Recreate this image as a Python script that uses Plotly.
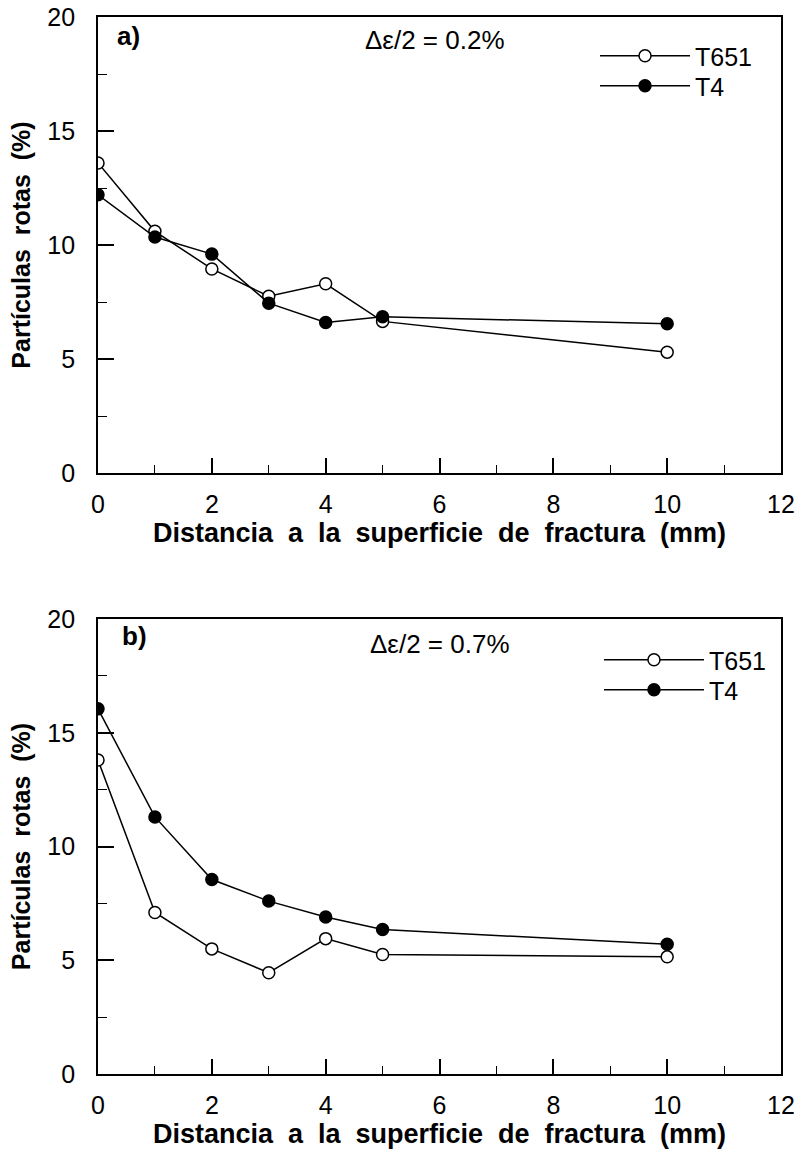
import plotly.graph_objects as go

distance = [0, 1, 2, 3, 4, 5, 10]
a_t651 = [13.6, 10.6, 8.95, 7.75, 8.3, 6.65, 5.3]
a_t4 = [12.2, 10.35, 9.6, 7.45, 6.6, 6.85, 6.55]
b_t651 = [13.8, 7.1, 5.5, 4.45, 5.95, 5.25, 5.15]
b_t4 = [16.05, 11.3, 8.55, 7.6, 6.9, 6.35, 5.7]
series_names = ["T651", "T4"]
panel_labels = ["a)", "b)"]
strain_labels = ["\u0394\u03b5/2 = 0.2%", "\u0394\u03b5/2 = 0.7%"]
x_title = "Distancia  a  la  superficie  de  fractura  (mm)"
y_title = "Part\u00edculas  rotas  (%)"

FONT = "Liberation Sans, Arial, Helvetica, sans-serif"

fig = go.Figure()

def add_pair(t651, t4, xa, ya, leg1, leg2):
    fig.add_trace(go.Scatter(
        x=distance, y=t651, name=series_names[0], mode="lines+markers",
        xaxis=xa, yaxis=ya, legend=leg1,
        line=dict(color="black", width=1.5),
        marker=dict(symbol="circle", size=12, color="white",
                    line=dict(color="black", width=1.5))))
    fig.add_trace(go.Scatter(
        x=distance, y=t4, name=series_names[1], mode="lines+markers",
        xaxis=xa, yaxis=ya, legend=leg2,
        line=dict(color="black", width=1.5),
        marker=dict(symbol="circle", size=12, color="black",
                    line=dict(color="black", width=1.5))))

add_pair(a_t651, a_t4, "x", "y", "legend", "legend2")
add_pair(b_t651, b_t4, "x2", "y2", "legend3", "legend4")

axis_common = dict(
    showgrid=False, zeroline=False, showline=True, linecolor="black",
    linewidth=1.8, mirror=True, ticks="inside", tickwidth=1.5, automargin=False,
    ticklabeloverflow="allow",
    tickcolor="black", tickfont=dict(family=FONT, size=25, color="black"),
)
xcommon = dict(axis_common, range=[0, 12], dtick=2, tick0=0, ticklen=15,
               minor=dict(ticks="inside", ticklen=8, dtick=1, tickcolor="black", tickwidth=1.2),
               ticklabelstandoff=8,
               title=dict(text="<b>" + x_title + "</b>", standoff=0,
                          font=dict(family=FONT, size=27, color="black")))
ycommon = dict(axis_common, range=[0, 20], dtick=5, tick0=0, ticklen=16,
               minor=dict(ticks="inside", ticklen=9, dtick=2.5, tickcolor="black", tickwidth=1.2),
               ticklabelstandoff=16,
               title=dict(text="<b>" + y_title + "</b>", standoff=10,
                          font=dict(family=FONT, size=25, color="black")))

W, H = 800, 1150
L, R, T, B = 98, 19, 17, 76
PH = H - T - B
top_lo = (H - B - 473) / PH
bot_hi = (H - B - 619) / PH

def py(pix):
    return (H - B - pix) / PH

def leg(x, y, width):
    return dict(x=x, y=y, xanchor="left", yanchor="middle",
                bgcolor="rgba(0,0,0,0)", itemwidth=width, borderwidth=0,
                font=dict(family=FONT, size=25, color="black"))

fig.update_layout(
    width=W, height=H,
    margin=dict(l=L, r=R, t=T, b=B, autoexpand=False),
    paper_bgcolor="white", plot_bgcolor="white",
    font=dict(family=FONT, color="black"),
    xaxis=dict(xcommon, domain=[0, 1], anchor="y"),
    yaxis=dict(ycommon, domain=[top_lo, 1.0], anchor="x"),
    xaxis2=dict(xcommon, domain=[0, 1], anchor="y2"),
    yaxis2=dict(ycommon, domain=[0, bot_hi], anchor="x2"),
    legend=leg(0.7277, py(56), 90),
    legend2=leg(0.7277, py(86), 90),
    legend3=leg(0.7335, py(660), 100),
    legend4=leg(0.7335, py(690), 100),
    showlegend=True,
)

ann_pos = [
    (("x domain", "y domain"), (0.0249, 0.958), (0.388, 0.949)),
    (("x2 domain", "y2 domain"), (0.032, 0.963), (0.395, 0.945)),
]
for i, ((xr, yr), p1, p2) in enumerate(ann_pos):
    fig.add_annotation(text="<b>" + panel_labels[i] + "</b>", xref=xr, yref=yr,
                       x=p1[0], y=p1[1], xanchor="left", yanchor="middle", showarrow=False,
                       font=dict(family=FONT, size=26, color="black"))
    fig.add_annotation(text=strain_labels[i], xref=xr, yref=yr,
                       x=p2[0], y=p2[1], xanchor="left", yanchor="middle", showarrow=False,
                       font=dict(family=FONT, size=26, color="black"))

fig.write_html(
    "out.html",
    config={"displayModeBar": False},
    post_script="document.body.style.margin='0';"
                "document.body.style.overflow='hidden';"
                "document.documentElement.style.overflow='hidden';",
)
